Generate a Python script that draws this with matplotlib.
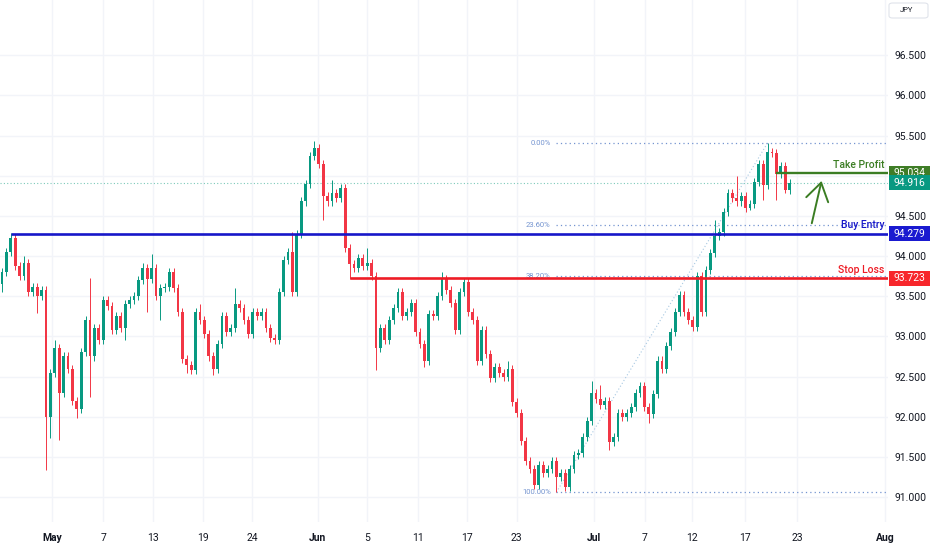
import numpy as np
import matplotlib.pyplot as plt
import matplotlib.transforms as mtransforms
from matplotlib.patches import Rectangle, FancyBboxPatch

plt.rcParams['font.family'] = ['Roboto', 'DejaVu Sans']

# --- data (4h-ish candles, close per bar) ---
first_open = 93.65
closes = [
    93.80, 94.05, 94.22, 93.88, 93.75, 93.92, 93.55, 93.62, 93.50, 93.58,
    92.00, 92.55, 92.85, 92.30, 92.75, 92.60, 92.20, 92.10, 92.80, 93.20,
    92.75, 93.10, 92.95, 93.45, 93.38, 93.08, 93.25, 93.10, 93.40, 93.45,
    93.50, 93.70, 93.85, 93.72, 93.85, 93.50, 93.60, 93.62, 93.80, 93.60,
    93.30, 92.72, 92.65, 92.58, 93.30, 93.20, 93.03, 92.75, 92.60, 92.90,
    93.25, 93.05, 93.10, 93.40, 93.35, 93.20, 93.03, 93.30, 93.25, 93.30,
    93.10, 92.98, 92.95, 93.55, 93.95, 94.05, 93.55, 94.28, 94.68, 94.90,
    95.25, 95.35, 95.15, 94.75, 94.68, 94.78, 94.72, 94.85, 94.10, 93.90,
    93.85, 93.98, 93.88, 93.92, 93.75, 92.85, 93.10, 92.95, 93.20, 93.35,
    93.55, 93.25, 93.30, 93.42, 93.05, 92.90, 92.70, 93.28, 93.25, 93.50,
    93.72, 93.58, 93.42, 93.08, 93.55, 93.68, 93.30, 93.20, 92.70, 93.08,
    92.78, 92.48, 92.62, 92.55, 92.50, 92.60, 92.18, 92.05, 91.70, 91.45,
    91.35, 91.15, 91.40, 91.30, 91.35, 91.45, 91.25, 91.30, 91.12, 91.35,
    91.52, 91.55, 91.75, 91.95, 92.30, 92.22, 92.15, 92.20, 91.68, 91.75,
    92.05, 92.00, 92.05, 92.12, 92.30, 92.38, 92.12, 92.03, 92.28, 92.70,
    92.60, 92.88, 93.05, 93.30, 93.52, 93.30, 93.20, 93.12, 93.75, 93.30,
    93.83, 94.04, 94.25, 94.30, 94.55, 94.78, 94.72, 94.68, 94.75, 94.60,
    94.65, 94.92, 95.15, 94.88, 95.30, 95.28, 95.02, 95.12, 94.82, 94.916,
]
# wick extremes that stand out on the chart (bar index -> price)
high_marks = {0: 93.85, 2: 94.29, 3: 94.28, 5: 94.00, 12: 92.95, 20: 93.73, 32: 93.92,
              34: 94.03, 45: 93.40, 53: 93.60, 66: 94.30, 71: 95.43, 75: 94.95,
              77: 94.90, 83: 94.10, 100: 93.80, 115: 92.70, 134: 92.45, 136: 92.40,
              162: 94.45, 167: 95.00, 174: 95.41}
low_marks = {0: 93.55, 8: 93.29, 10: 91.34, 11: 91.73, 13: 91.71, 17: 91.98, 20: 92.25,
             28: 92.95, 33: 93.30, 36: 93.20, 42: 92.55, 48: 92.52, 73: 94.45, 79: 93.72,
             85: 92.58, 96: 92.62, 121: 91.10, 126: 91.06, 138: 91.58, 147: 91.92,
             170: 94.58, 173: 94.70, 176: 94.70, 178: 94.78}

tick_labels = ['May', '7', '13', '19', '24', 'Jun', '5', '11', '17', '23',
               'Jul', '7', '12', '17', '23', 'Aug']
tick_bars = [11.4, 23.0, 34.3, 45.7, 56.8, 71.8, 83.0, 94.5, 105.7, 117.0,
             134.5, 146.1, 156.8, 168.9, 180.7, 200.7]
months = ['May', 'Jun', 'Jul', 'Aug']

take_profit = 95.034
buy_entry = 94.279
stop_loss = 93.723
last_price = 94.916
entry_anchor, stop_anchor, tp_anchor = 2, 79, 176
fib_ratios = [0.0, 0.236, 0.382, 1.0]
price_ticks = np.arange(91.0, 96.6, 0.5)

# --- colours ---
UP, DOWN = '#089981', '#f23645'
BLUE, RED, GREEN = '#1717c9', '#ee1c25', '#3b7d23'
FIB = '#7494d0'
GRID = '#f2f4f9'
TXT = '#131722'

closes = np.array(closes)
opens = np.concatenate([[first_open], closes[:-1]])
wick = 0.05
highs = np.maximum(opens, closes) + wick
lows = np.minimum(opens, closes) - wick
for k, v in high_marks.items():
    highs[k] = max(v, opens[k], closes[k])
for k, v in low_marks.items():
    lows[k] = min(v, opens[k], closes[k])

fig = plt.figure(figsize=(9.32, 5.5), dpi=100)
fig.patch.set_facecolor('white')
ax = fig.add_axes([0, 28 / 550, 888 / 932, 522 / 550])
ax.set_xlim(-0.45, 201.36)
ax.set_ylim(90.689, 97.189)
for s in ax.spines.values():
    s.set_visible(False)

ax.set_axisbelow(True)
ax.yaxis.tick_right()
ax.set_yticks(price_ticks)
ax.set_yticklabels([f'{p:.3f}' for p in price_ticks])
ax.tick_params(axis='y', length=0, pad=5, labelsize=7.5, labelcolor=TXT)
ax.set_xticks(tick_bars)
ax.set_xticklabels(tick_labels)
ax.tick_params(axis='x', length=0, pad=8, labelsize=7.5, labelcolor=TXT)
for lab in ax.get_xticklabels():
    if lab.get_text() in months:
        lab.set_fontweight('bold')
ax.grid(True, color=GRID, lw=1)

# candles
x = np.arange(len(closes))
cols = np.where(closes >= opens, UP, DOWN)
ax.vlines(x, lows, highs, colors=cols, lw=0.7, zorder=3)
ax.bar(x, np.maximum(np.abs(closes - opens), 0.015), bottom=np.minimum(opens, closes),
       width=0.6, color=cols, lw=0, zorder=3)

xr = ax.get_xlim()[1]

# last price dotted line
ax.axhline(last_price, color='#7cc9b9', lw=0.8, ls=(0, (1, 2)), zorder=2)

# fib retracement
lo_i = int(np.argmin(lows))
hi_i = lo_i + int(np.argmax(highs[lo_i:]))
lo_p, hi_p = lows[lo_i], highs[hi_i]
ax.plot([lo_i, hi_i], [lo_p, hi_p], color='#a7c8e2', lw=0.8, ls=(0, (1, 2)), zorder=2)
for r in fib_ratios:
    lvl = hi_p - r * (hi_p - lo_p)
    ax.hlines(lvl, lo_i, xr, color=FIB, lw=0.9, ls=(0, (1, 2.5)), zorder=2)
    ax.annotate(f'{r * 100:.2f}%', xy=(lo_i, lvl), xytext=(-4, 0), textcoords='offset points',
                ha='right', va='center', fontsize=5.5, color=FIB)

# trade levels
ax.hlines(buy_entry, entry_anchor, xr, color=BLUE, lw=1.9, zorder=4)
ax.hlines(stop_loss, stop_anchor, xr, color=RED, lw=1.9, zorder=4)
ax.hlines(take_profit, tp_anchor, xr, color=GREEN, lw=1.7, zorder=4)

blend = mtransforms.blended_transform_factory(ax.transAxes, ax.transData)
for txt, lvl, c in [('Take Profit', take_profit, GREEN), ('Buy Entry', buy_entry, BLUE),
                    ('Stop Loss', stop_loss, RED)]:
    ax.annotate(txt, xy=(0.996, lvl), xycoords=blend, xytext=(0, 2.5),
                textcoords='offset points', ha='right', va='bottom',
                fontsize=7.5, color=c, fontweight='medium')

# arrow from the entry area up to take profit
ax.annotate('', xy=(186.4, 94.97), xytext=(183.9, 94.375),
            arrowprops=dict(arrowstyle='->,head_length=0.7,head_width=0.45',
                            color=GREEN, lw=1.4, mutation_scale=18), zorder=5)

# price boxes on the scale (later boxes sit on top of earlier ones)
box_h = 15 / 80.3
z = 6
for lvl, c in [(take_profit, '#3f7d27'), (last_price, UP), (buy_entry, '#1a1ad0'),
               (stop_loss, '#f7262b')]:
    ax.add_patch(Rectangle((1.001, lvl - box_h / 2), 0.0462, box_h, transform=blend,
                           facecolor=c, edgecolor='none', clip_on=False, zorder=z))
    ax.text(1.0241, lvl, f'{lvl:.3f}', transform=blend, ha='center', va='center',
            fontsize=7.5, color='white', zorder=z + 0.5, clip_on=False)
    z += 1

# currency badge
fig.add_artist(FancyBboxPatch((889 / 932, 1 - 18 / 550), 39 / 932, 15 / 550,
                              boxstyle='round,pad=0,rounding_size=0.004',
                              transform=fig.transFigure, fc='white', ec='#e0e3eb', lw=0.8))
fig.text(900 / 932, 1 - 10.5 / 550, 'JPY', ha='left', va='center', fontsize=5.5, color=TXT)

fig.savefig('out.png', dpi=100, facecolor='white')
